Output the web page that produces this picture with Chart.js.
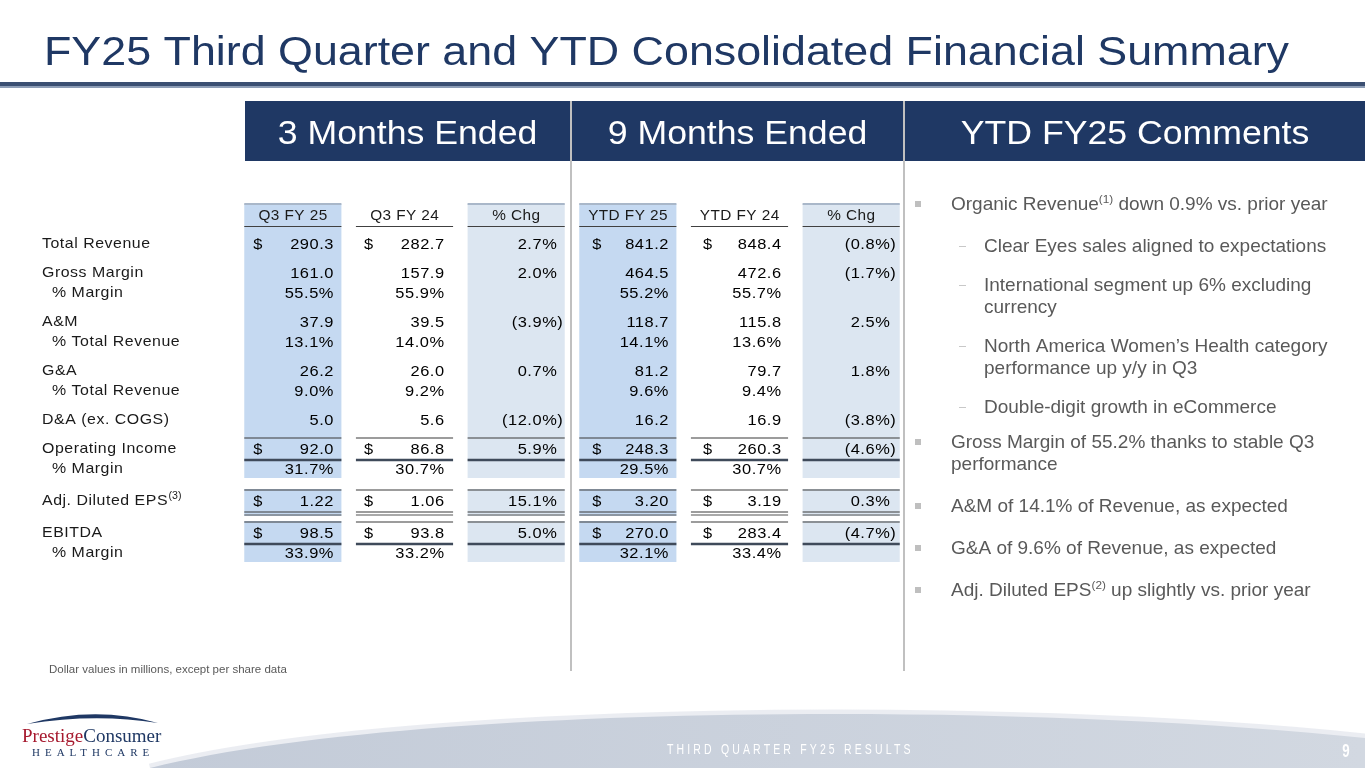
<!DOCTYPE html>
<html>
<head>
<meta charset="utf-8">
<title>FY25 Third Quarter and YTD Consolidated Financial Summary</title>
<script src="https://cdn.jsdelivr.net/npm/chart.js@4.4.1/dist/chart.umd.min.js"></script>
<style>
  html, body { margin: 0; padding: 0; background: #fff; overflow: hidden; }
  canvas { display: block; }
</style>
</head>
<body>
<canvas id="slide" width="1365" height="768"></canvas>
<script>
// ---- data ----
const columns = ["Q3 FY 25", "Q3 FY 24", "% Chg", "YTD FY 25", "YTD FY 24", "% Chg"];
const rowLabels = [
  "Total Revenue", "Gross Margin", "% Margin", "A&M", "% Total Revenue",
  "G&A", "% Total Revenue", "D&A (ex. COGS)", "Operating Income", "% Margin",
  "Adj. Diluted EPS", "EBITDA", "% Margin"
];
const q3Fy25  = [290.3, 161.0, 55.5, 37.9, 13.1, 26.2, 9.0, 5.0, 92.0, 31.7, 1.22, 98.5, 33.9];
const q3Fy24  = [282.7, 157.9, 55.9, 39.5, 14.0, 26.0, 9.2, 5.6, 86.8, 30.7, 1.06, 93.8, 33.2];
const q3Chg   = [2.7, 2.0, null, -3.9, null, 0.7, null, -12.0, 5.9, null, 15.1, 5.0, null];
const ytdFy25 = [841.2, 464.5, 55.2, 118.7, 14.1, 81.2, 9.6, 16.2, 248.3, 29.5, 3.20, 270.0, 32.1];
const ytdFy24 = [848.4, 472.6, 55.7, 115.8, 13.6, 79.7, 9.4, 16.9, 260.3, 30.7, 3.19, 283.4, 33.4];
const ytdChg  = [-0.8, -1.7, null, 2.5, null, 1.8, null, -3.8, -4.6, null, 0.3, -4.7, null];
const dollarRows = ["Total Revenue", "Operating Income", "Adj. Diluted EPS", "EBITDA"];
const labelNotes = { "Adj. Diluted EPS": "(3)" };
const decimals = { "Adj. Diluted EPS": 2 };

const slideTitle = "FY25 Third Quarter and YTD Consolidated Financial Summary";
const groupTitles = ["3 Months Ended", "9 Months Ended", "YTD FY25 Comments"];
// [level, line, line...]  ^..^ = superscript
const comments = [
  [0, "Organic Revenue^(1)^ down 0.9% vs. prior year"],
  [1, "Clear Eyes sales aligned to expectations"],
  [1, "International segment up 6% excluding", "currency"],
  [1, "North America Women\u2019s Health category", "performance up y/y in Q3"],
  [1, "Double-digit growth in eCommerce"],
  [0, "Gross Margin of 55.2% thanks to stable Q3", "performance"],
  [0, "A&M of 14.1% of Revenue, as expected"],
  [0, "G&A of 9.6% of Revenue, as expected"],
  [0, "Adj. Diluted EPS^(2)^ up slightly vs. prior year"]
];
const footnote = "Dollar values in millions, except per share data";
const footerText = "THIRD QUARTER FY25 RESULTS";
const pageNo = "9";

// ---- styling ----
const SANS = '"Liberation Sans", Arial, sans-serif';
const SERIF = '"Liberation Serif", "Times New Roman", serif';
const NAVY = "#1f3864";
const STRETCH = 1.06; // table text on the slide is a bit wide
const series = [q3Fy25, q3Fy24, q3Chg, ytdFy25, ytdFy24, ytdChg];
const chgCols = [2, 5];
const shadeColors = ["#c5d9f1", null, "#dce6f1", "#c5d9f1", null, "#dce6f1"];
const dollarInset = [9, 8, 0, 13, 12, 0];
const valueInset = [8, 9, 2, 8, 7, 4];
const ruleAbove = { "Operating Income": "thin", "Adj. Diluted EPS": "thin", "EBITDA": "thin" };
const ruleBelow = { "Operating Income": "thick", "Adj. Diluted EPS": "double", "EBITDA": "thick" };
const blockStarts = ["Adj. Diluted EPS", "EBITDA"];
const BAR_PCT = 0.87;

// row positions on the y scale (header = 0); sub rows sit closer
const rowPos = [0];
rowLabels.forEach((lab, r) => {
  let step = r === 0 ? 1.4 : (lab.startsWith("%") ? 1.0 : 1.45);
  if (blockStarts.includes(lab)) step += 0.15;
  rowPos.push(rowPos[r] + step);
});

// shaded blocks (header..OI margin, EPS, EBITDA..margin)
const blockEdges = [];
let blockStart = 0;
rowLabels.forEach((lab, r) => {
  if (blockStarts.includes(lab)) { blockEdges.push([blockStart, r]); blockStart = r + 1; }
});
blockEdges.push([blockStart, rowLabels.length]);

const datasets = blockEdges.map(([a, b]) => {
  const lastLab = rowLabels[b - 1];
  const top = rowPos[a] - 0.55;
  const bottom = rowPos[b] + (ruleBelow[lastLab] === "double" ? 0.8 : 0.5);
  return {
    data: columns.map((c, i) => (shadeColors[i] ? [top, bottom] : null)),
    backgroundColor: shadeColors.map(c => c || "rgba(0,0,0,0)"),
    borderWidth: 0,
    grouped: false,
    categoryPercentage: 1,
    barPercentage: BAR_PCT
  };
});

// text helper: letter spacing + horizontal stretch
function text(ctx, s, x, y, o) {
  ctx.save();
  ctx.font = o.font;
  ctx.fillStyle = o.color || "#000";
  ctx.textAlign = "left";
  ctx.textBaseline = "alphabetic";
  const ls = o.ls || 0;
  ctx.letterSpacing = ls + "px";
  const sx = o.sx || 1;
  const w = (ctx.measureText(s).width - ls) * sx;
  let x0 = x;
  if (o.align === "right") x0 = x - w;
  else if (o.align === "center") x0 = x - w / 2;
  ctx.translate(x0, y);
  ctx.scale(sx, 1);
  ctx.fillText(s, 0, 0);
  ctx.restore();
  return w;
}

function hline(ctx, l, r, y, w, color) {
  ctx.fillStyle = color;
  ctx.fillRect(l, y - w / 2, r - l, w);
}

function richLine(ctx, s, x, y, size, color) {
  let cx = x;
  s.split("^").forEach((p, k) => {
    const sup = k % 2 === 1;
    ctx.font = (sup ? size * 0.62 : size) + "px " + SANS;
    ctx.fillStyle = color;
    ctx.fillText(p, cx, sup ? y - size * 0.36 : y);
    cx += ctx.measureText(p).width;
  });
}

// slide furniture: title, header bars, separators, footer, logo
const slidePlugin = {
  id: "slide",
  beforeDraw(chart) {
    const ctx = chart.ctx;
    const W = chart.width, H = chart.height;
    ctx.save();
    ctx.fillStyle = "#fff";
    ctx.fillRect(0, 0, W, H);

    text(ctx, slideTitle, 44, 65, { font: "40px " + SANS, color: NAVY, sx: 1.12 });
    ctx.fillStyle = "#3b4f72";
    ctx.fillRect(0, 82, W, 4);
    ctx.fillStyle = "#8d9db6";
    ctx.fillRect(0, 86, W, 2);

    // group header bars
    const bars = [[245, 570], [572, 903], [905, W]];
    ctx.fillStyle = NAVY;
    ctx.fillRect(245, 101, W - 245, 60);
    ctx.fillStyle = "#c0c0c0";
    ctx.fillRect(570, 101, 2, 570);
    ctx.fillRect(903, 101, 2, 570);
    bars.forEach(([l, r], k) => {
      text(ctx, groupTitles[k], (l + r) / 2, 144, { font: "33px " + SANS, color: "#fff", sx: 1.08, align: "center" });
    });

    // footer band
    ctx.beginPath();
    ctx.moveTo(150, 768);
    ctx.bezierCurveTo(400, 705, 1000, 700, 1365, 738);
    ctx.strokeStyle = "rgba(226,230,237,0.7)";
    ctx.lineWidth = 9;
    ctx.stroke();
    ctx.beginPath();
    ctx.moveTo(150, 768);
    ctx.bezierCurveTo(400, 705, 1000, 700, 1365, 738);
    ctx.lineTo(1365, 768);
    ctx.closePath();
    const g = ctx.createLinearGradient(150, 0, 1365, 0);
    g.addColorStop(0, "#c3cbd8");
    g.addColorStop(1, "#d2d8e1");
    ctx.fillStyle = g;
    ctx.fill();
    text(ctx, footerText, 667, 754, { font: "14px " + SANS, color: "#fff", sx: 0.75, ls: 4.2 });
    text(ctx, pageNo, 1346, 757, { font: "bold 19px " + SANS, color: "#fff", sx: 0.7, align: "center" });

    // logo
    ctx.beginPath();
    ctx.moveTo(27, 724);
    ctx.quadraticCurveTo(95, 705, 158, 723);
    ctx.quadraticCurveTo(95, 713, 27, 724);
    ctx.fillStyle = NAVY;
    ctx.fill();
    const pw = text(ctx, "Prestige", 22, 742, { font: "19px " + SERIF, color: "#a6192e" });
    text(ctx, "Consumer", 22 + pw, 742, { font: "19px " + SERIF, color: NAVY });
    text(ctx, "HEALTHCARE", 32, 756, { font: "11px " + SERIF, color: NAVY, ls: 5 });

    // footnote
    text(ctx, footnote, 49, 673, { font: "11.5px " + SANS, color: "#595959" });

    // comments
    let y = 210;
    comments.forEach((item, k) => {
      const [lvl, ...lines] = item;
      if (lvl === 0) {
        ctx.fillStyle = "#bfbfbf";
        ctx.fillRect(915, y - 9, 6, 6);
      } else {
        ctx.fillStyle = "#c8c8c8";
        ctx.fillRect(959, y - 6, 7, 1);
      }
      lines.forEach((ln, j) => {
        richLine(ctx, ln, lvl === 0 ? 951 : 984, y + j * 22, 19, "#595959");
      });
      const next = comments[k + 1];
      if (next) {
        const gap = lvl === 0 ? 20 : (next[0] === 1 ? 17 : 13);
        y += (lines.length - 1) * 22 + 22 + gap;
      }
    });
    ctx.restore();
  }
};

// table text and rules, positioned through the chart scales
const tablePlugin = {
  id: "table",
  afterDatasetsDraw(chart) {
    const ctx = chart.ctx, xs = chart.scales.x, ys = chart.scales.y;
    const half = (xs.getPixelForValue(1) - xs.getPixelForValue(0)) * BAR_PCT / 2;
    const unit = ys.getPixelForValue(1) - ys.getPixelForValue(0);
    const cell = i => [xs.getPixelForValue(i) - half, xs.getPixelForValue(i) + half];
    const labelFont = "15px " + SANS;
    const numFont = "15.5px " + SANS;
    const NUM_LS = 0.5;

    ctx.save();
    ctx.font = numFont;
    ctx.letterSpacing = NUM_LS + "px";
    const parenW = ctx.measureText(")").width * STRETCH;
    ctx.restore();

    // column headers
    const hy = ys.getPixelForValue(rowPos[0]);
    columns.forEach((c, i) => {
      const [l, r] = cell(i);
      if (shadeColors[i]) hline(ctx, l, r, ys.getPixelForValue(rowPos[0] - 0.55), 2, "#a9b7c9");
      text(ctx, c, (l + r) / 2, hy + 5.2, { font: "14.5px " + SANS, color: "#1a1a1a", sx: STRETCH, ls: 0.4, align: "center" });
      hline(ctx, l, r, hy + 11.5, 1, "#404040");
    });

    rowLabels.forEach((lab, r) => {
      const y = ys.getPixelForValue(rowPos[r + 1]);
      const sub = lab.startsWith("%");
      const lw = text(ctx, lab, sub ? 52 : 42, y + 5.4, { font: labelFont, color: "#1a1a1a", sx: STRETCH, ls: 0.5 });
      if (labelNotes[lab]) {
        text(ctx, labelNotes[lab], 42 + lw + 1, y - 1, { font: "10px " + SANS, color: "#1a1a1a", sx: STRETCH });
      }

      series.forEach((vals, i) => {
        const v = vals[r];
        if (v === null || v === undefined) return;
        const [l, rr] = cell(i);
        const isChg = chgCols.includes(i);
        let s, right = rr - valueInset[i];
        if (isChg) {
          s = v < 0 ? "(" + Math.abs(v).toFixed(1) + "%)" : v.toFixed(1) + "%";
          if (v >= 0) right -= parenW;
        } else {
          s = sub ? v.toFixed(1) + "%" : v.toFixed(decimals[lab] || 1);
          if (dollarRows.includes(lab)) {
            text(ctx, "$", l + dollarInset[i], y + 5.5, { font: numFont, color: "#000", sx: STRETCH });
          }
        }
        text(ctx, s, right, y + 5.5, { font: numFont, color: "#000", sx: STRETCH, ls: NUM_LS, align: "right" });
      });

      // accounting rules
      columns.forEach((c, i) => {
        const [l, rr] = cell(i);
        if (ruleAbove[lab]) hline(ctx, l, rr, y - 0.5 * unit, 1, "#3a3a3a");
        if (ruleBelow[lab] === "thick") hline(ctx, l, rr, y + 0.6 * unit, 2.5, "#3f4a5a");
        if (ruleBelow[lab] === "double") {
          hline(ctx, l, rr, y + 0.6 * unit, 1, "#3a3a3a");
          hline(ctx, l, rr, y + 0.75 * unit, 1, "#555");
        }
      });
    });
  }
};

new Chart(document.getElementById("slide"), {
  type: "bar",
  data: { labels: columns, datasets },
  options: {
    responsive: false,
    animation: false,
    devicePixelRatio: 1,
    events: [],
    layout: { padding: { left: 237, right: 458, top: 195, bottom: 193 } },
    plugins: { legend: { display: false }, tooltip: { enabled: false }, title: { display: false } },
    scales: {
      x: { type: "category", display: false, offset: true, grid: { display: false } },
      y: { type: "linear", display: false, reverse: true, min: -1, max: 18 }
    }
  },
  plugins: [slidePlugin, tablePlugin]
});
</script>
</body>
</html>
